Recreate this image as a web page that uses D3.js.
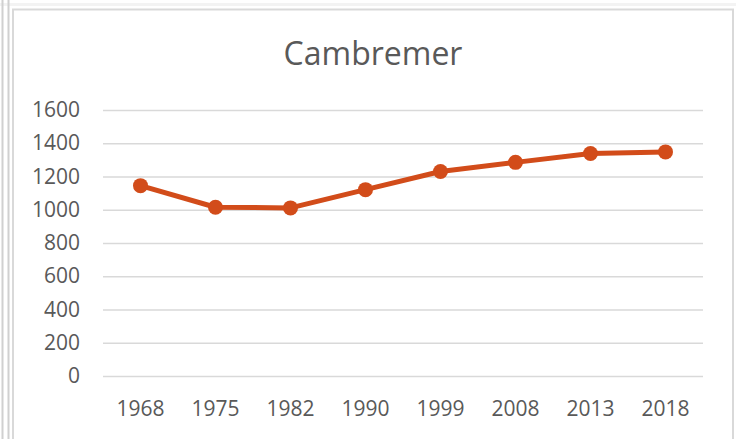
<!DOCTYPE html>
<html lang="en">
<head>
    <meta charset="UTF-8">
    <title>Cambremer</title>
    <script src="https://d3js.org/d3.v7.min.js"></script>
    <style>
        body { margin: 0; background: #fff; }
    </style>
</head>
<body>
<div id="chart"></div>
<script>
    // population figures
    const years = ["1968", "1975", "1982", "1990", "1999", "2008", "2013", "2018"];
    const population = [1145, 1015, 1011, 1121, 1230, 1285, 1338, 1348];
    const yTicks = [0, 200, 400, 600, 800, 1000, 1200, 1400, 1600];

    const width = 736, height = 439;
    const svg = d3.select("#chart").append("svg")
        .attr("width", width)
        .attr("height", height);

    // page edges / frame
    svg.append("rect").attr("x", 0).attr("y", 3).attr("width", width).attr("height", 3).attr("fill", "#f3f3f3");
    svg.append("line").attr("x1", 2.5).attr("x2", 2.5).attr("y1", 0).attr("y2", height)
        .attr("stroke", "#d0d0d0").attr("stroke-width", 2);
    svg.append("line").attr("x1", 8.5).attr("x2", 8.5).attr("y1", 0).attr("y2", height)
        .attr("stroke", "#d0d0d0").attr("stroke-width", 2);
    svg.append("rect")
        .attr("x", 13).attr("y", 9.5)
        .attr("width", 720).attr("height", 450)
        .attr("fill", "#fff")
        .attr("stroke", "#d9d9d9")
        .attr("stroke-width", 2);

    const x = d3.scaleBand().domain(years).range([103, 703]);
    const y = d3.scaleLinear().domain([0, 1600]).range([376, 110]);

    svg.append("text")
        .attr("x", 373).attr("y", 65)
        .attr("text-anchor", "middle")
        .attr("font-family", "Open Sans")
        .attr("font-size", 32)
        .attr("fill", "#595959")
        .text("Cambremer");

    const yAxis = svg.append("g").attr("transform", "translate(103,0)")
        .call(d3.axisLeft(y).tickValues(yTicks).tickFormat(d3.format("d")).tickSize(-600).tickPadding(23));
    yAxis.select(".domain").remove();
    yAxis.selectAll(".tick line").attr("stroke", "#d9d9d9").attr("stroke-width", 1.5);
    yAxis.selectAll(".tick text")
        .attr("font-family", "Open Sans").attr("font-size", 21).attr("fill", "#595959");

    const xAxis = svg.append("g").attr("transform", "translate(0,376)")
        .call(d3.axisBottom(x).tickSize(0).tickPadding(25));
    xAxis.select(".domain").remove();
    xAxis.selectAll(".tick text")
        .attr("font-family", "Open Sans").attr("font-size", 21).attr("fill", "#595959");

    const line = d3.line()
        .x((d, i) => x(years[i]) + x.bandwidth() / 2)
        .y(d => y(d));

    svg.append("path")
        .datum(population)
        .attr("d", line)
        .attr("fill", "none")
        .attr("stroke", "#d24c1a")
        .attr("stroke-width", 5)
        .attr("stroke-linejoin", "round");

    svg.selectAll("circle")
        .data(population)
        .join("circle")
        .attr("cx", (d, i) => x(years[i]) + x.bandwidth() / 2)
        .attr("cy", d => y(d))
        .attr("r", 7.5)
        .attr("fill", "#d24c1a");
</script>
</body>
</html>
